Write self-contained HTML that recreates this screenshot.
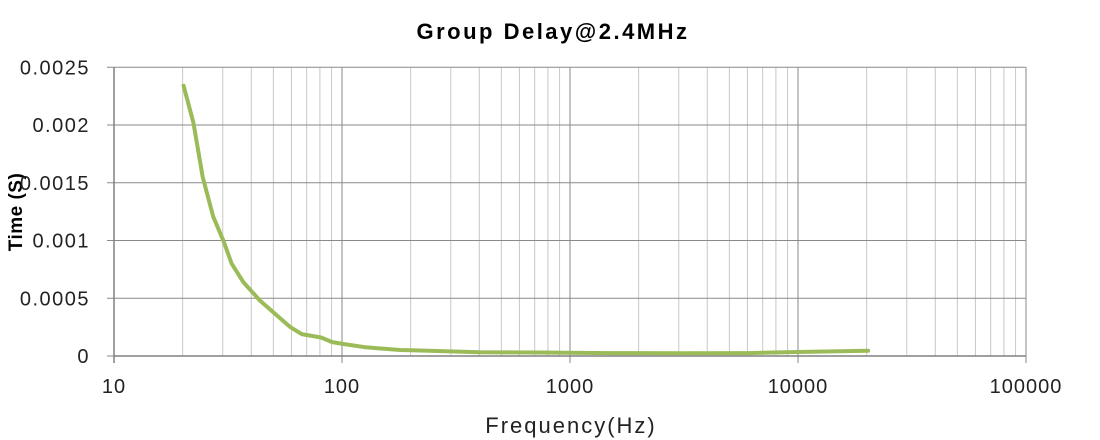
<!DOCTYPE html>
<html><head><meta charset="utf-8"><style>
html,body{margin:0;padding:0;background:#fff;}
svg{display:block;font-family:"Liberation Sans","DejaVu Sans",sans-serif;}
</style></head><body>
<svg id="chart" width="1100" height="440" viewBox="0 0 1100 440" xmlns="http://www.w3.org/2000/svg">
<text x="553" y="39" text-anchor="middle" font-size="22" font-weight="bold" letter-spacing="2.5" fill="#000">Group Delay@2.4MHz</text>
<text transform="translate(22,212) rotate(-90)" text-anchor="middle" font-size="19" font-weight="bold" letter-spacing="0.5" fill="#000">Time (S)</text>
<text x="571" y="433" text-anchor="middle" font-size="22" letter-spacing="2" fill="#222">Frequency(Hz)</text>
<g id="grid"></g>
<g id="axes"></g>
<g id="series"></g>
</svg>
<script>
const xTickValues = [10, 100, 1000, 10000, 100000];
const xTickLabels = ["10", "100", "1000", "10000", "100000"];
const yTickValues = [0, 0.0005, 0.001, 0.0015, 0.002, 0.0025];
const yTickLabels = ["0", "0.0005", "0.001", "0.0015", "0.002", "0.0025"];
const freqs = [20.2, 22.3, 24.5, 27.2, 30.3, 32.8, 36.9, 43.7, 50.5, 59.3, 66.5, 81, 90.6, 105, 127, 180, 201, 400, 730, 1500, 3100, 6000, 10000, 20300];
const delays = [0.00234, 0.00202, 0.00155, 0.00121, 0.00099, 0.00080, 0.00064, 0.00048, 0.00037, 0.00025, 0.00019, 0.00016, 0.00012, 0.0001, 0.000075, 0.000052, 0.00005, 0.000032, 0.00003, 0.000025, 0.000023, 0.000025, 0.000035, 0.000046];

const NS = "http://www.w3.org/2000/svg";
const X0 = 114, DEC = 228, Y0 = 356, YTOP = 67.3;
function xs(f){ return X0 + (Math.log10(f) - 1) * DEC; }
function ys(v){ return Y0 - v / 0.0025 * (Y0 - YTOP); }
function mk(tag, attrs, parent){
  const e = document.createElementNS(NS, tag);
  for (const k in attrs) e.setAttribute(k, attrs[k]);
  parent.appendChild(e); return e;
}
const grid = document.getElementById('grid');
const axes = document.getElementById('axes');
const series = document.getElementById('series');
for (let d = 10; d < 100000; d *= 10) {
  for (let m = 2; m <= 9; m++) {
    const l = mk('line', {x1: xs(d*m), x2: xs(d*m), y1: YTOP, y2: Y0, stroke: '#c8c8c8', 'stroke-width': 1}, grid);
    
    
  }
}
xTickValues.forEach((v, i) => {
  const l = mk('line', {x1: xs(v), x2: xs(v), y1: YTOP, y2: Y0 + 7, stroke: '#8a8a8a', 'stroke-width': 1}, grid);
  
  
  const t = mk('text', {x: xs(v), y: 393, 'text-anchor': 'middle', 'font-size': 20, 'letter-spacing': 1, fill: '#222'}, axes);
  t.textContent = xTickLabels[i];
  
  
});
yTickValues.forEach((v, i) => {
  const l = mk('line', {x1: X0 - 7, x2: 1026, y1: ys(v), y2: ys(v), stroke: '#8a8a8a', 'stroke-width': 1}, grid);
  
  
  const t = mk('text', {x: 90, y: ys(v) + 7, 'text-anchor': 'end', 'font-size': 20, 'letter-spacing': 1.5, fill: '#222'}, axes);
  t.textContent = yTickLabels[i];
  
  
});
const ax = mk('line', {x1: X0, x2: 1026, y1: Y0, y2: Y0, stroke: '#808080', 'stroke-width': 1.5}, axes);


const ay = mk('line', {x1: X0, x2: X0, y1: YTOP, y2: Y0 + 7, stroke: '#808080', 'stroke-width': 1.5}, axes);


const pts = freqs.map((f, i) => xs(f).toFixed(1) + ',' + ys(delays[i]).toFixed(1)).join(' ');
const pl = mk('polyline', {points: pts, fill: 'none', stroke: '#9bbb59', 'stroke-width': 4, 'stroke-linejoin': 'round', 'stroke-linecap': 'round'}, series);


</script>
</body></html>
